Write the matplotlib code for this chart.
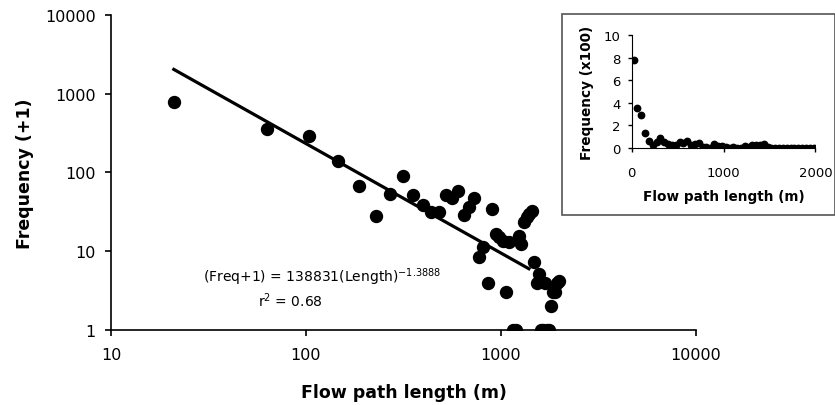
import numpy as np
import matplotlib.pyplot as plt
from matplotlib.patches import Rectangle

plt.rcParams['font.family'] = ['DejaVu Sans']
plt.rcParams['mathtext.default'] = 'regular'

# -----------------------------
# Data
# -----------------------------
# bin centres of flow path length (m)
length = [21, 63, 104, 146, 188, 229, 271, 313, 355, 396,
          438, 480, 521, 563, 605, 647, 688, 730, 772, 813,
          855, 897, 938, 980, 1022, 1063, 1105, 1147, 1188, 1230,
          1272, 1313, 1355, 1397, 1438, 1480, 1522, 1564, 1605, 1647,
          1689, 1730, 1772, 1814, 1856, 1897, 1939, 1981]

# frequency + 1
freq1 = [776, 355, 292, 138, 66.6, 28.2, 53, 89, 51, 39,
         31, 31, 51, 47, 58.6, 28.8, 36, 47, 8.4, 11.2,
         4.0, 34, 16.5, 15, 13.6, 3.0, 13, 1, 1, 15.7,
         12.3, 23.3, 27, 30, 32.7, 7.2, 4.0, 5.1, 1, 1,
         4.0, 1, 1, 2.0, 3.0, 3.0, 4.0, 4.2]

# power law fit
coef = 138831
expo = -1.3888
fit_x = np.array([21, 1390])

length = np.array(length)
freq1 = np.array(freq1)

fig = plt.figure(figsize=(8.35, 4.06), dpi=100)

# -----------------------------
# Main log-log panel
# -----------------------------
ax = fig.add_axes([0.1329, 0.1847, 0.7006, 0.7766])
ax.plot(length, freq1, 'o', color='black', markersize=8.6, zorder=3)
ax.plot(fit_x, coef * fit_x ** expo, color='black', lw=2.3, zorder=2)

ax.set_xscale('log')
ax.set_yscale('log')
ax.set_xlim(10, 10000)
ax.set_ylim(1, 10000)
ax.set_xticks([10, 100, 1000, 10000])
ax.set_xticklabels(['10', '100', '1000', '10000'])
ax.set_yticks([1, 10, 100, 1000, 10000])
ax.set_yticklabels(['1', '10', '100', '1000', '10000'])
ax.minorticks_off()
for s in ['top', 'right']:
    ax.spines[s].set_visible(False)
for s in ['left', 'bottom']:
    ax.spines[s].set_linewidth(1.2)
ax.tick_params(direction='out', length=4, width=1.2, labelsize=11.5)
ax.tick_params(axis='x', pad=8.5)
ax.tick_params(axis='y', pad=7)
ax.set_xlabel('Flow path length (m)', fontsize=12.5, fontweight='bold', labelpad=15)
ax.set_ylabel('Frequency (+1)', fontsize=12.5, fontweight='bold', labelpad=8)

ax.text(0.1573, 0.1714, '(Freq+1) = 138831(Length)$^{-1.3888}$',
        transform=ax.transAxes, ha='left', va='center', fontsize=10)
ax.text(0.306, 0.0952, 'r$^{2}$ = 0.68',
        transform=ax.transAxes, ha='center', va='center', fontsize=10)

# -----------------------------
# Inset: linear axes
# -----------------------------
fig.patches.append(Rectangle((562 / 835, 1 - 216 / 406), 273 / 835, 201 / 406,
                             transform=fig.transFigure, fill=False,
                             edgecolor='#555555', lw=1.2, zorder=0))

ins = fig.add_axes([0.7565, 0.633, 0.220, 0.2783])
ins.plot(length, (freq1 - 1) / 100, 'o', color='black', markersize=4.6)
ins.set_xlim(0, 2000)
ins.set_ylim(0, 10)
ins.set_xticks([0, 1000, 2000])
ins.set_yticks([0, 2, 4, 6, 8, 10])
for s in ['top', 'right']:
    ins.spines[s].set_visible(False)
ins.tick_params(direction='out', length=3, width=1, labelsize=9.5)
ins.tick_params(axis='x', pad=10)
ins.tick_params(axis='y', pad=5)
ins.set_xlabel('Flow path length (m)', fontsize=9.8, fontweight='bold', labelpad=7)
ins.set_ylabel('Frequency (x100)', fontsize=9.8, fontweight='bold', labelpad=7)
ins.patch.set_visible(False)

fig.savefig('out.png', dpi=100)
